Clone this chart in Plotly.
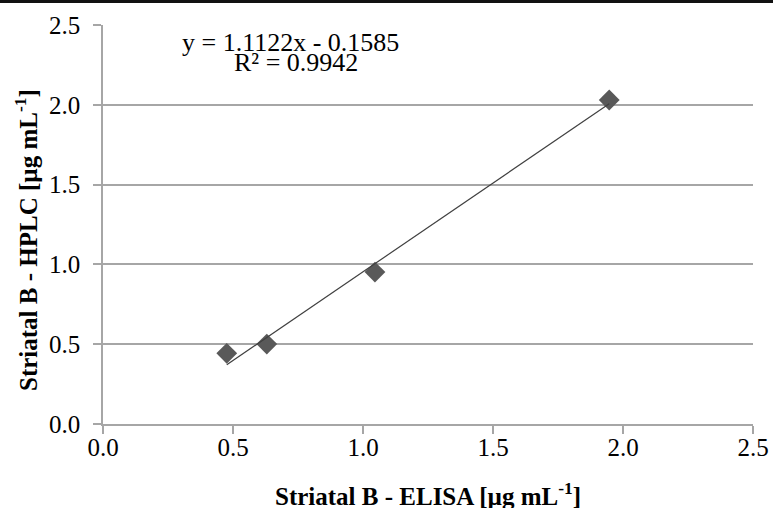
import plotly.graph_objects as go

elisa = [0.476, 0.630, 1.046, 1.947]
hplc = [0.443, 0.501, 0.952, 2.030]
slope = 1.1122
intercept = -0.1585
eq_line1 = "y = 1.1122x - 0.1585"
eq_line2 = "R² = 0.9942"
ticks = [0.0, 0.5, 1.0, 1.5, 2.0, 2.5]
tick_labels = ["0.0", "0.5", "1.0", "1.5", "2.0", "2.5"]
x_title = "<b>Striatal B - ELISA [µg mL<sup>-1</sup>]</b>"
y_title = "<b>Striatal B - HPLC [µg mL<sup>-1</sup>]</b>"

x_line = [min(elisa), max(elisa)]
y_line = [slope * v + intercept for v in x_line]

font = "Liberation Serif"
PH = 399.0
PW = 650.0

fig = go.Figure()
fig.add_trace(go.Scatter(x=elisa, y=hplc, mode="markers",
                         marker=dict(symbol="diamond", size=16, color="#595959"),
                         showlegend=False))
fig.add_trace(go.Scatter(x=x_line, y=y_line, mode="lines",
                         line=dict(color="#404040", width=1.2), showlegend=False))

fig.add_annotation(x=0.722, y=2.392, xref="x", yref="y", text=eq_line1, showarrow=False,
                   font=dict(family=font, size=26, color="#000"))
fig.add_annotation(x=0.742, y=2.262, xref="x", yref="y", text=eq_line2, showarrow=False,
                   font=dict(family=font, size=26, color="#000"))

fig.add_annotation(x=0.5, y=(424 - 494) / PH, xref="paper", yref="paper", text=x_title,
                   showarrow=False, xanchor="center", yanchor="middle",
                   font=dict(family=font, size=25, color="#000"))
fig.add_annotation(x=(26 - 103) / PW, y=(424 - 240) / PH, xref="paper", yref="paper", text=y_title,
                   showarrow=False, xanchor="center", yanchor="middle", textangle=-90,
                   font=dict(family=font, size=25, color="#000"))

fig.update_layout(
    width=773, height=508,
    margin=dict(l=103, r=20, t=25, b=84, autoexpand=False),
    paper_bgcolor="white", plot_bgcolor="white",
    font=dict(family=font, color="#000"),
    xaxis=dict(range=[0, 2.5], tickvals=ticks, ticktext=tick_labels, automargin=False,
               showgrid=False, zeroline=False, showline=True, linecolor="#a6a6a6", linewidth=1.5,
               ticks="outside", ticklen=8, tickcolor="#a6a6a6", tickwidth=1.5,
               tickfont=dict(family=font, size=25), ticklabelstandoff=-8),
    yaxis=dict(range=[0, 2.5], tickvals=ticks, ticktext=tick_labels, automargin=False,
               showgrid=True, gridcolor="#a6a6a6", gridwidth=1.5, zeroline=False,
               showline=True, linecolor="#a6a6a6", linewidth=1.5,
               ticks="outside", ticklen=8, tickcolor="#a6a6a6", tickwidth=1.5,
               tickfont=dict(family=font, size=25), ticklabelstandoff=8),
)
fig.add_shape(type="rect", xref="paper", yref="paper", x0=-0.2, x1=1.1,
              y0=1 + 22 / PH, y1=1 + 25 / PH, line=dict(width=0), fillcolor="#111",
              layer="above")
fig.write_html("out.html", config={"displayModeBar": False},
               post_script="document.body.style.margin='0';document.body.style.overflow='hidden';")
